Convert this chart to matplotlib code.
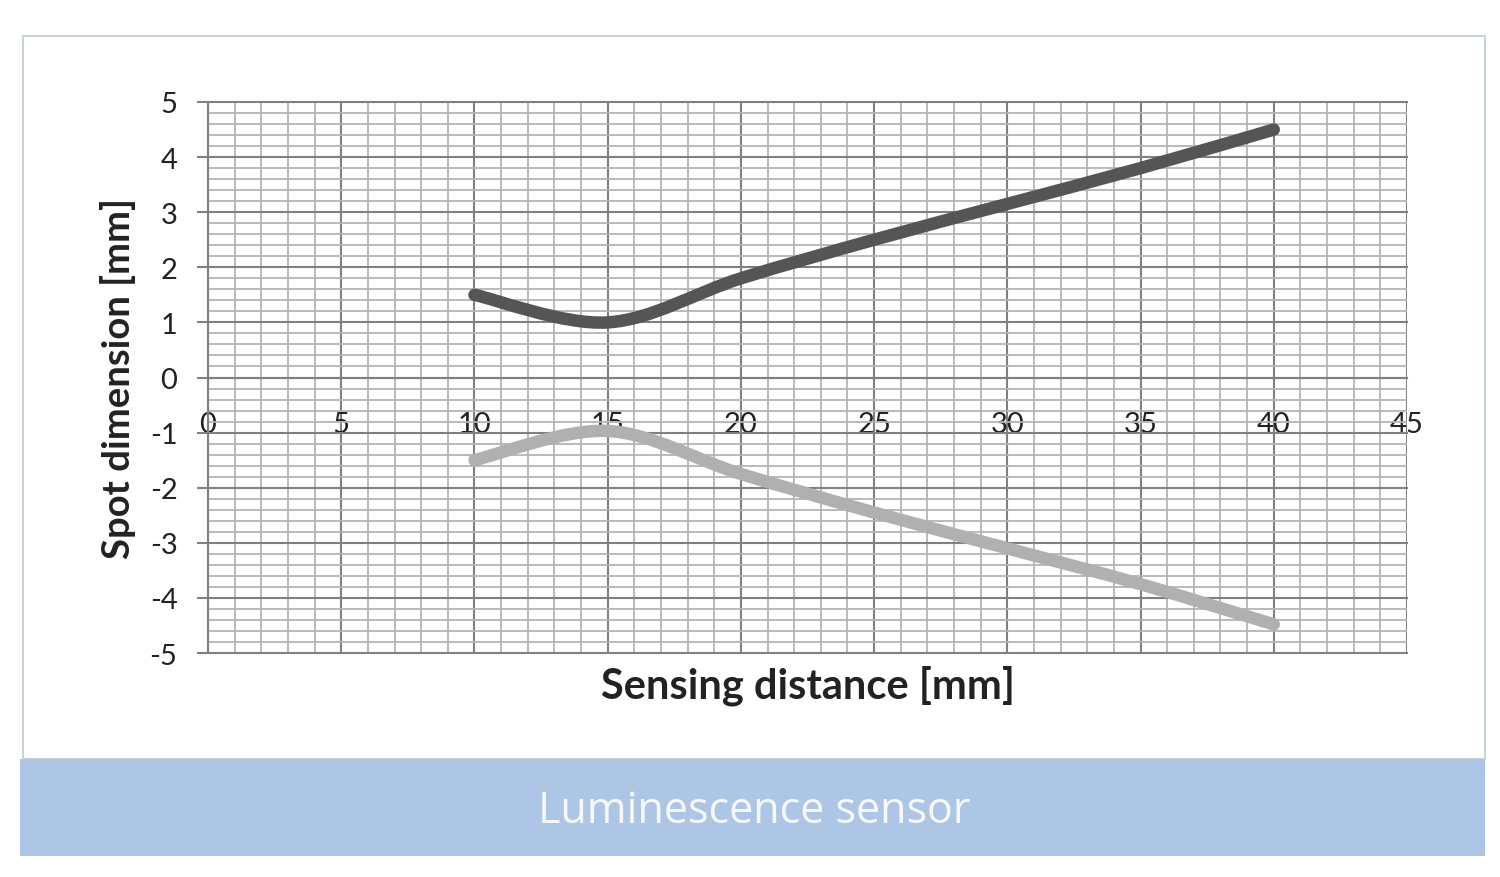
#!/usr/bin/env python
# spot dimension vs sensing distance for the luminescence sensor
import matplotlib
matplotlib.use("Agg")
import matplotlib.pyplot as plt
from matplotlib.path import Path
from matplotlib.patches import PathPatch, Rectangle

# data
distance = [10, 15, 20, 25, 30, 35, 40]
spot_upper = [1.5, 1.0, 1.8, 2.5, 3.15, 3.8, 4.5]
spot_lower = [-1.5, -0.97, -1.75, -2.45, -3.1, -3.75, -4.48]
x_ticks = [0, 5, 10, 15, 20, 25, 30, 35, 40, 45]
y_ticks = [-5, -4, -3, -2, -1, 0, 1, 2, 3, 4, 5]
banner_text = "Luminescence sensor"

plt.rcParams['font.family'] = ['Lato', 'DejaVu Sans']
plt.rcParams['axes.unicode_minus'] = False  # plain hyphen like the original


# smoothed line like the spreadsheet "smooth line" option (bezier through the points)
def smooth_path(xs, ys):
    pts = list(zip(xs, ys))
    verts = [pts[0]]
    codes = [Path.MOVETO]
    for i in range(len(pts) - 1):
        p0 = pts[i - 1] if i > 0 else pts[i]
        p1 = pts[i]
        p2 = pts[i + 1]
        p3 = pts[i + 2] if i + 2 < len(pts) else pts[i + 1]
        c1 = (p1[0] + (p2[0] - p0[0]) / 6, p1[1] + (p2[1] - p0[1]) / 6)
        c2 = (p2[0] - (p3[0] - p1[0]) / 6, p2[1] - (p3[1] - p1[1]) / 6)
        verts += [c1, c2, p2]
        codes += [Path.CURVE4] * 3
    return Path(verts, codes)


fig = plt.figure(figsize=(15, 8.78), dpi=100)

# outer frame and blue banner
fig.patches.append(Rectangle((0.0153, 0.1344), 0.9747, 0.8235, transform=fig.transFigure,
                             fill=False, edgecolor="#c9d3dc", linewidth=1.5))
fig.patches.append(Rectangle((0.0133, 0.0239), 0.9767, 0.1105, transform=fig.transFigure,
                             facecolor="#adc6e5", edgecolor="none"))
fig.text(0.5027, 0.0752, banner_text, ha="center", va="center", color="#f6f9fc",
         fontsize=31, family=["Open Sans", "DejaVu Sans"])

ax = fig.add_axes([0.1387, 0.2551, 0.7993, 0.6276])
ax.set_xlim(0, 45)
ax.set_ylim(-5, 5)
ax.set_xticks(x_ticks)
ax.set_yticks(y_ticks)
ax.set_xticks([v for v in range(0, 46) if v % 5 != 0], minor=True)
ax.set_yticks([v / 5 for v in range(-25, 26) if v % 5 != 0], minor=True)

ax.set_axisbelow(True)
ax.grid(which="major", color="#808080", linewidth=1.5)
ax.grid(which="minor", color="#b4b4b4", linewidth=1.3)
for gl in ax.get_xgridlines() + ax.get_ygridlines():
    gl.set_clip_on(False)

for s in ["top", "right"]:
    ax.spines[s].set_visible(False)
ax.spines["left"].set_color("#808080")
ax.spines["left"].set_linewidth(1.5)
ax.spines["bottom"].set_position(("data", 0))
ax.spines["bottom"].set_color("#808080")
ax.spines["bottom"].set_linewidth(1.5)

ax.tick_params(axis="x", which="both", length=0, pad=24, labelsize=21, labelcolor="#222222")
ax.tick_params(axis="y", which="major", length=8, width=1.5, color="#808080", pad=14,
               labelsize=21, labelcolor="#222222")
ax.tick_params(axis="y", which="minor", length=0)

ax.add_patch(PathPatch(smooth_path(distance, spot_upper), fill=False, edgecolor="#555555",
                       linewidth=9, capstyle="round", joinstyle="round", zorder=3))
ax.add_patch(PathPatch(smooth_path(distance, spot_lower), fill=False, edgecolor="#b0b0b0",
                       linewidth=9, capstyle="round", joinstyle="round", zorder=3))

ax.text(0.5004, -0.058, "Sensing distance [mm]", transform=ax.transAxes, ha="center", va="center",
        fontsize=30, fontweight="bold", color="#222222")
ax.text(-0.075, 0.5, "Spot dimension [mm]", transform=ax.transAxes, ha="center", va="center",
        rotation=90, fontsize=27.5, fontweight="bold", color="#222222")

plt.savefig("out.png", dpi=100)
